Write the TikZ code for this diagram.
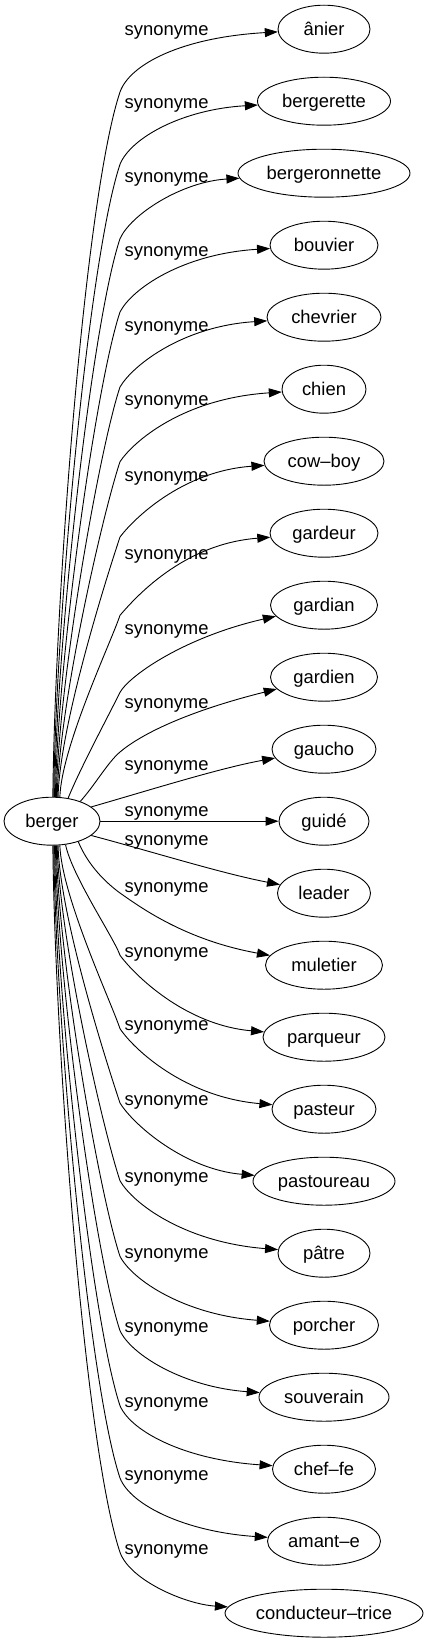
\documentclass[tikz,border=0pt]{standalone}
\usepackage{fontspec}
\setmainfont{Liberation Sans}
\usetikzlibrary{shapes.geometric, arrows.meta}
\begin{document}
\begin{tikzpicture}[x=1pt, y=-1pt,
  every node/.style={font=\fontsize{18.4}{22}\selectfont},
  word/.style={draw, ellipse, line width=0.9pt, inner sep=0pt, minimum height=48pt, text height=16pt, text depth=4pt},
  lbl/.style={inner sep=0pt, anchor=base west},
  conn/.style={line width=0.9pt, -{Triangle[length=13pt, width=9pt]}}]
\useasboundingbox (0,0) rectangle (429,1643);
\fill[white] (0,0) rectangle (429,1643);

\node[word, minimum width=96pt] (berger) at (52,821.2) {berger};
\node[word, minimum width=92pt]  (t0)  at (324,29.2)   {ânier};
\node[word, minimum width=133pt] (t1)  at (324,101.2)  {bergerette};
\node[word, minimum width=172pt] (t2)  at (324,173.2)  {bergeronnette};
\node[word, minimum width=108pt] (t3)  at (324,245.2)  {bouvier};
\node[word, minimum width=114pt] (t4)  at (324,317.2)  {chevrier};
\node[word, minimum width=84pt]  (t5)  at (324,389.2)  {chien};
\node[word, minimum width=120pt] (t6)  at (324,461.2)  {cow–boy};
\node[word, minimum width=108pt] (t7)  at (324,533.2)  {gardeur};
\node[word, minimum width=107pt] (t8)  at (324,605.2)  {gardian};
\node[word, minimum width=107pt] (t9)  at (324,677.2)  {gardien};
\node[word, minimum width=104pt] (t10) at (324,749.2)  {gaucho};
\node[word, minimum width=90pt]  (t11) at (324,821.2)  {guidé};
\node[word, minimum width=93pt]  (t12) at (324,893.2)  {leader};
\node[word, minimum width=117pt] (t13) at (324,965.2)  {muletier};
\node[word, minimum width=122pt] (t14) at (324,1037.2) {parqueur};
\node[word, minimum width=104pt] (t15) at (324,1109.2) {pasteur};
\node[word, minimum width=142pt] (t16) at (324,1181.2) {pastoureau};
\node[word, minimum width=92pt]  (t17) at (324,1253.2) {pâtre};
\node[word, minimum width=109pt] (t18) at (324,1325.2) {porcher};
\node[word, minimum width=130pt] (t19) at (324,1397.2) {souverain};
\node[word, minimum width=103pt] (t20) at (324,1469.2) {chef–fe};
\node[word, minimum width=113pt] (t21) at (324,1541.2) {amant–e};
\node[word, minimum width=198pt] (t22) at (324,1613.2) {conducteur–trice};

\node[lbl] (l0)  at (124.5,36)     {synonyme};
\node[lbl] (l1)  at (124.5,108.3)  {synonyme};
\node[lbl] (l2)  at (124.5,182.7)  {synonyme};
\node[lbl] (l3)  at (124.5,256)    {synonyme};
\node[lbl] (l4)  at (124.5,331)    {synonyme};
\node[lbl] (l5)  at (124.5,405.7)  {synonyme};
\node[lbl] (l6)  at (124.5,481)    {synonyme};
\node[lbl] (l7)  at (124.5,559.3)  {synonyme};
\node[lbl] (l8)  at (124.5,634.3)  {synonyme};
\node[lbl] (l9)  at (124.5,708.5)  {synonyme};
\node[lbl] (l10) at (124.5,770.7)  {synonyme};
\node[lbl] (l11) at (124.5,816.7)  {synonyme};
\node[lbl] (l12) at (124.5,845)    {synonyme};
\node[lbl] (l13) at (124.5,892.7)  {synonyme};
\node[lbl] (l14) at (124.5,957.3)  {synonyme};
\node[lbl] (l15) at (124.5,1030.7) {synonyme};
\node[lbl] (l16) at (124.5,1105)   {synonyme};
\node[lbl] (l17) at (124.5,1182.7) {synonyme};
\node[lbl] (l18) at (124.5,1258.3) {synonyme};
\node[lbl] (l19) at (124.5,1332.7) {synonyme};
\node[lbl] (l20) at (124.5,1407.7) {synonyme};
\node[lbl] (l21) at (124.5,1480)   {synonyme};
\node[lbl] (l22) at (124.5,1554.3) {synonyme};

\draw[conn] (berger.88) .. controls (54.8,599.6) and (84.8,197.8) .. (120,92) .. controls (130,64) and (182,37.4) .. (t0);
\draw[conn] (berger.86) .. controls (55.7,619.8) and (88.4,259.2) .. (120,164.3) .. controls (130.6,138) and (182,109.4) .. (t1);
\draw[conn] (berger.84) .. controls (56.5,640.7) and (92.1,322.4) .. (120,238.7) .. controls (131.1,214.1) and (182,181.7) .. (t2);
\draw[conn] (berger.82) .. controls (57.4,661.2) and (95.8,384.8) .. (120,312) .. controls (131.7,289.1) and (182,253.9) .. (t3);
\draw[conn] (berger.80) .. controls (58.2,682.2) and (99.5,448.5) .. (120,387) .. controls (132.3,365.8) and (182,326.3) .. (t4);
\draw[conn] (berger.78) .. controls (59.1,703.1) and (103.2,512) .. (120,461.7) .. controls (132.9,442.2) and (182,398.6) .. (t5);
\draw[conn] (berger.76) .. controls (59.9,724.2) and (107,576) .. (120,537) .. controls (133.4,519.2) and (182,471.1) .. (t6);
\draw[conn] (berger.72) .. controls (61.7,746.1) and (110.9,642.6) .. (120,615.3) .. controls (134,599.2) and (182,543.9) .. (t7);
\draw[conn] (berger.55) .. controls (80,768.5) and (112,709) .. (120,692.3) .. controls (130,675) and (185,637) .. (t8);
\draw[conn] (berger.35) .. controls (95,785) and (108,762) .. (120,752) .. controls (140,735) and (185,712) .. (t9);
\draw[conn] (berger.20) .. controls (150,790) and (220,768) .. (t10);
\draw[conn] (berger) -- (t11);
\draw[conn] (berger.-20) .. controls (150,851) and (220,873) .. (t12);
\draw[conn] (berger.-38) .. controls (88,865) and (105,882) .. (120,893) .. controls (140,907) and (185,940) .. (t13);
\draw[conn] (berger.-60) .. controls (72,875.9) and (114.5,938.8) .. (120,955.3) .. controls (134.8,975.3) and (185,1024.9) .. (t14);
\draw[conn] (berger.-72) .. controls (61.7,896.4) and (110.8,1001.1) .. (120,1028.7) .. controls (134.2,1049.7) and (185,1097.1) .. (t15);
\draw[conn] (berger.-76) .. controls (59.9,917.2) and (107.1,1064.3) .. (120,1103) .. controls (133.6,1125) and (185,1169.5) .. (t16);
\draw[conn] (berger.-78) .. controls (59.1,939) and (103.2,1130.3) .. (120,1180.7) .. controls (133,1203.7) and (185,1242.3) .. (t17);
\draw[conn] (berger.-80) .. controls (58.2,960.2) and (99.4,1194.6) .. (120,1256.3) .. controls (132.4,1280.3) and (185,1314.9) .. (t18);
\draw[conn] (berger.-82) .. controls (57.4,981) and (95.7,1257.9) .. (120,1330.7) .. controls (131.8,1355.7) and (185,1387.2) .. (t19);
\draw[conn] (berger.-84) .. controls (56.5,1002) and (92,1321.6) .. (120,1405.7) .. controls (131.2,1431.7) and (185,1459.7) .. (t20);
\draw[conn] (berger.-86) .. controls (55.7,1022.2) and (88.4,1383.1) .. (120,1478) .. controls (130.6,1505) and (185,1531.7) .. (t21);
\draw[conn] (berger.-88) .. controls (54.8,1043) and (84.6,1446.2) .. (120,1552.3) .. controls (130,1580.3) and (185,1604.1) .. (t22);
\end{tikzpicture}
\end{document}
